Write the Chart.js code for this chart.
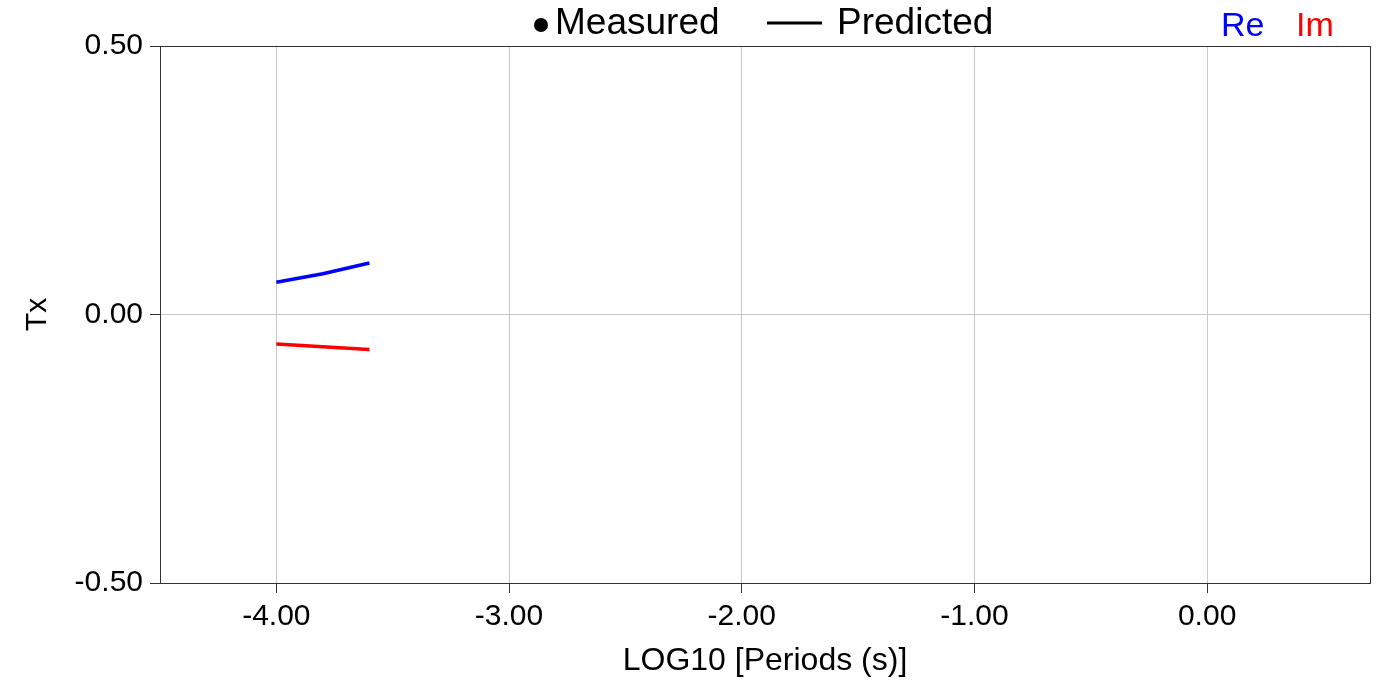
<!DOCTYPE html>
<html>
<head>
<meta charset="utf-8">
<script src="https://cdn.jsdelivr.net/npm/chart.js@4"></script>
<style>
  html, body { margin: 0; padding: 0; background: #fff; }
  #wrap { width: 1382px; height: 684px; }
</style>
</head>
<body>
<div id="wrap"><canvas id="tx"></canvas></div>
<script>
// periods (log10 s) and predicted Tx
var periods = [-4.0, -3.8, -3.6];
var txRe = [0.060, 0.076, 0.096];
var txIm = [-0.055, -0.060, -0.065];
var xTicks = [-4, -3, -2, -1, 0];
var yTicks = [-0.5, 0, 0.5];

var FONT = "'Liberation Sans', Arial, sans-serif";

function toPoints(xs, ys) {
    return xs.map(function (x, i) { return { x: x, y: ys[i] }; });
}

// box border + legend text drawn on top
var decorPlugin = {
    id: 'decor',
    afterDraw: function (chart) {
        var ctx = chart.ctx;
        var a = chart.chartArea;
        ctx.save();
        ctx.strokeStyle = '#333';
        ctx.lineWidth = 1;
        ctx.strokeRect(Math.round(a.left) + 0.5, Math.round(a.top) + 0.5,
            Math.round(a.right - a.left), Math.round(a.bottom - a.top));

        ctx.font = '37px ' + FONT;
        ctx.textBaseline = 'middle';
        ctx.textAlign = 'left';
        // Measured
        ctx.fillStyle = '#000';
        ctx.beginPath();
        ctx.arc(541, 25, 7, 0, Math.PI * 2);
        ctx.fill();
        ctx.fillText('Measured', 555, 24);
        // Predicted
        ctx.strokeStyle = '#000';
        ctx.lineWidth = 3;
        ctx.beginPath();
        ctx.moveTo(767, 23);
        ctx.lineTo(822, 23);
        ctx.stroke();
        ctx.fillText('Predicted', 837, 24);
        // Re / Im
        ctx.font = '34px ' + FONT;
        ctx.fillStyle = '#0000ff';
        ctx.fillText('Re', 1221, 27);
        ctx.fillStyle = '#ff0000';
        ctx.fillText('Im', 1296, 27);
        ctx.restore();
    }
};

var chart = new Chart(document.getElementById('tx').getContext('2d'), {
    type: 'scatter',
    data: {
        datasets: [
            {
                label: 'Re',
                data: toPoints(periods, txRe),
                showLine: true,
                borderColor: '#0000ff',
                backgroundColor: '#0000ff',
                borderWidth: 3.5,
                pointRadius: 0
            },
            {
                label: 'Im',
                data: toPoints(periods, txIm),
                showLine: true,
                borderColor: '#ff0000',
                backgroundColor: '#ff0000',
                borderWidth: 3.5,
                pointRadius: 0
            }
        ]
    },
    options: {
        responsive: true,
        maintainAspectRatio: false,
        animation: false,
        layout: { padding: { top: 46, right: 12, left: 0, bottom: 0 } },
        plugins: {
            legend: { display: false },
            tooltip: { enabled: false }
        },
        scales: {
            x: {
                type: 'linear',
                min: -4.5,
                max: 0.7,
                afterBuildTicks: function (axis) {
                    axis.ticks = xTicks.map(function (v) { return { value: v }; });
                },
                afterFit: function (axis) { axis.height = 101; },
                grid: {
                    color: '#c8c8c8',
                    tickColor: '#333',
                    tickLength: 10,
                    drawOnChartArea: true
                },
                border: { display: true, color: '#333' },
                ticks: {
                    color: '#000',
                    padding: 6,
                    font: { family: FONT, size: 30 },
                    callback: function (v) { return v.toFixed(2); }
                },
                title: {
                    display: true,
                    text: 'LOG10 [Periods (s)]',
                    color: '#000',
                    padding: { top: 0, bottom: 4 },
                    font: { family: FONT, size: 32 }
                }
            },
            y: {
                type: 'linear',
                min: -0.5,
                max: 0.5,
                afterBuildTicks: function (axis) {
                    axis.ticks = yTicks.map(function (v) { return { value: v }; });
                },
                afterFit: function (axis) { axis.width = 160; },
                grid: {
                    color: '#c8c8c8',
                    tickColor: '#333',
                    tickLength: 10
                },
                border: { display: true, color: '#333' },
                ticks: {
                    color: '#000',
                    padding: 7,
                    font: { family: FONT, size: 30 },
                    callback: function (v) { return v.toFixed(2); }
                },
                title: {
                    display: true,
                    text: 'Tx',
                    color: '#000',
                    padding: { top: 20, bottom: 0 },
                    font: { family: FONT, size: 30 }
                }
            }
        }
    },
    plugins: [decorPlugin]
});
</script>
</body>
</html>
